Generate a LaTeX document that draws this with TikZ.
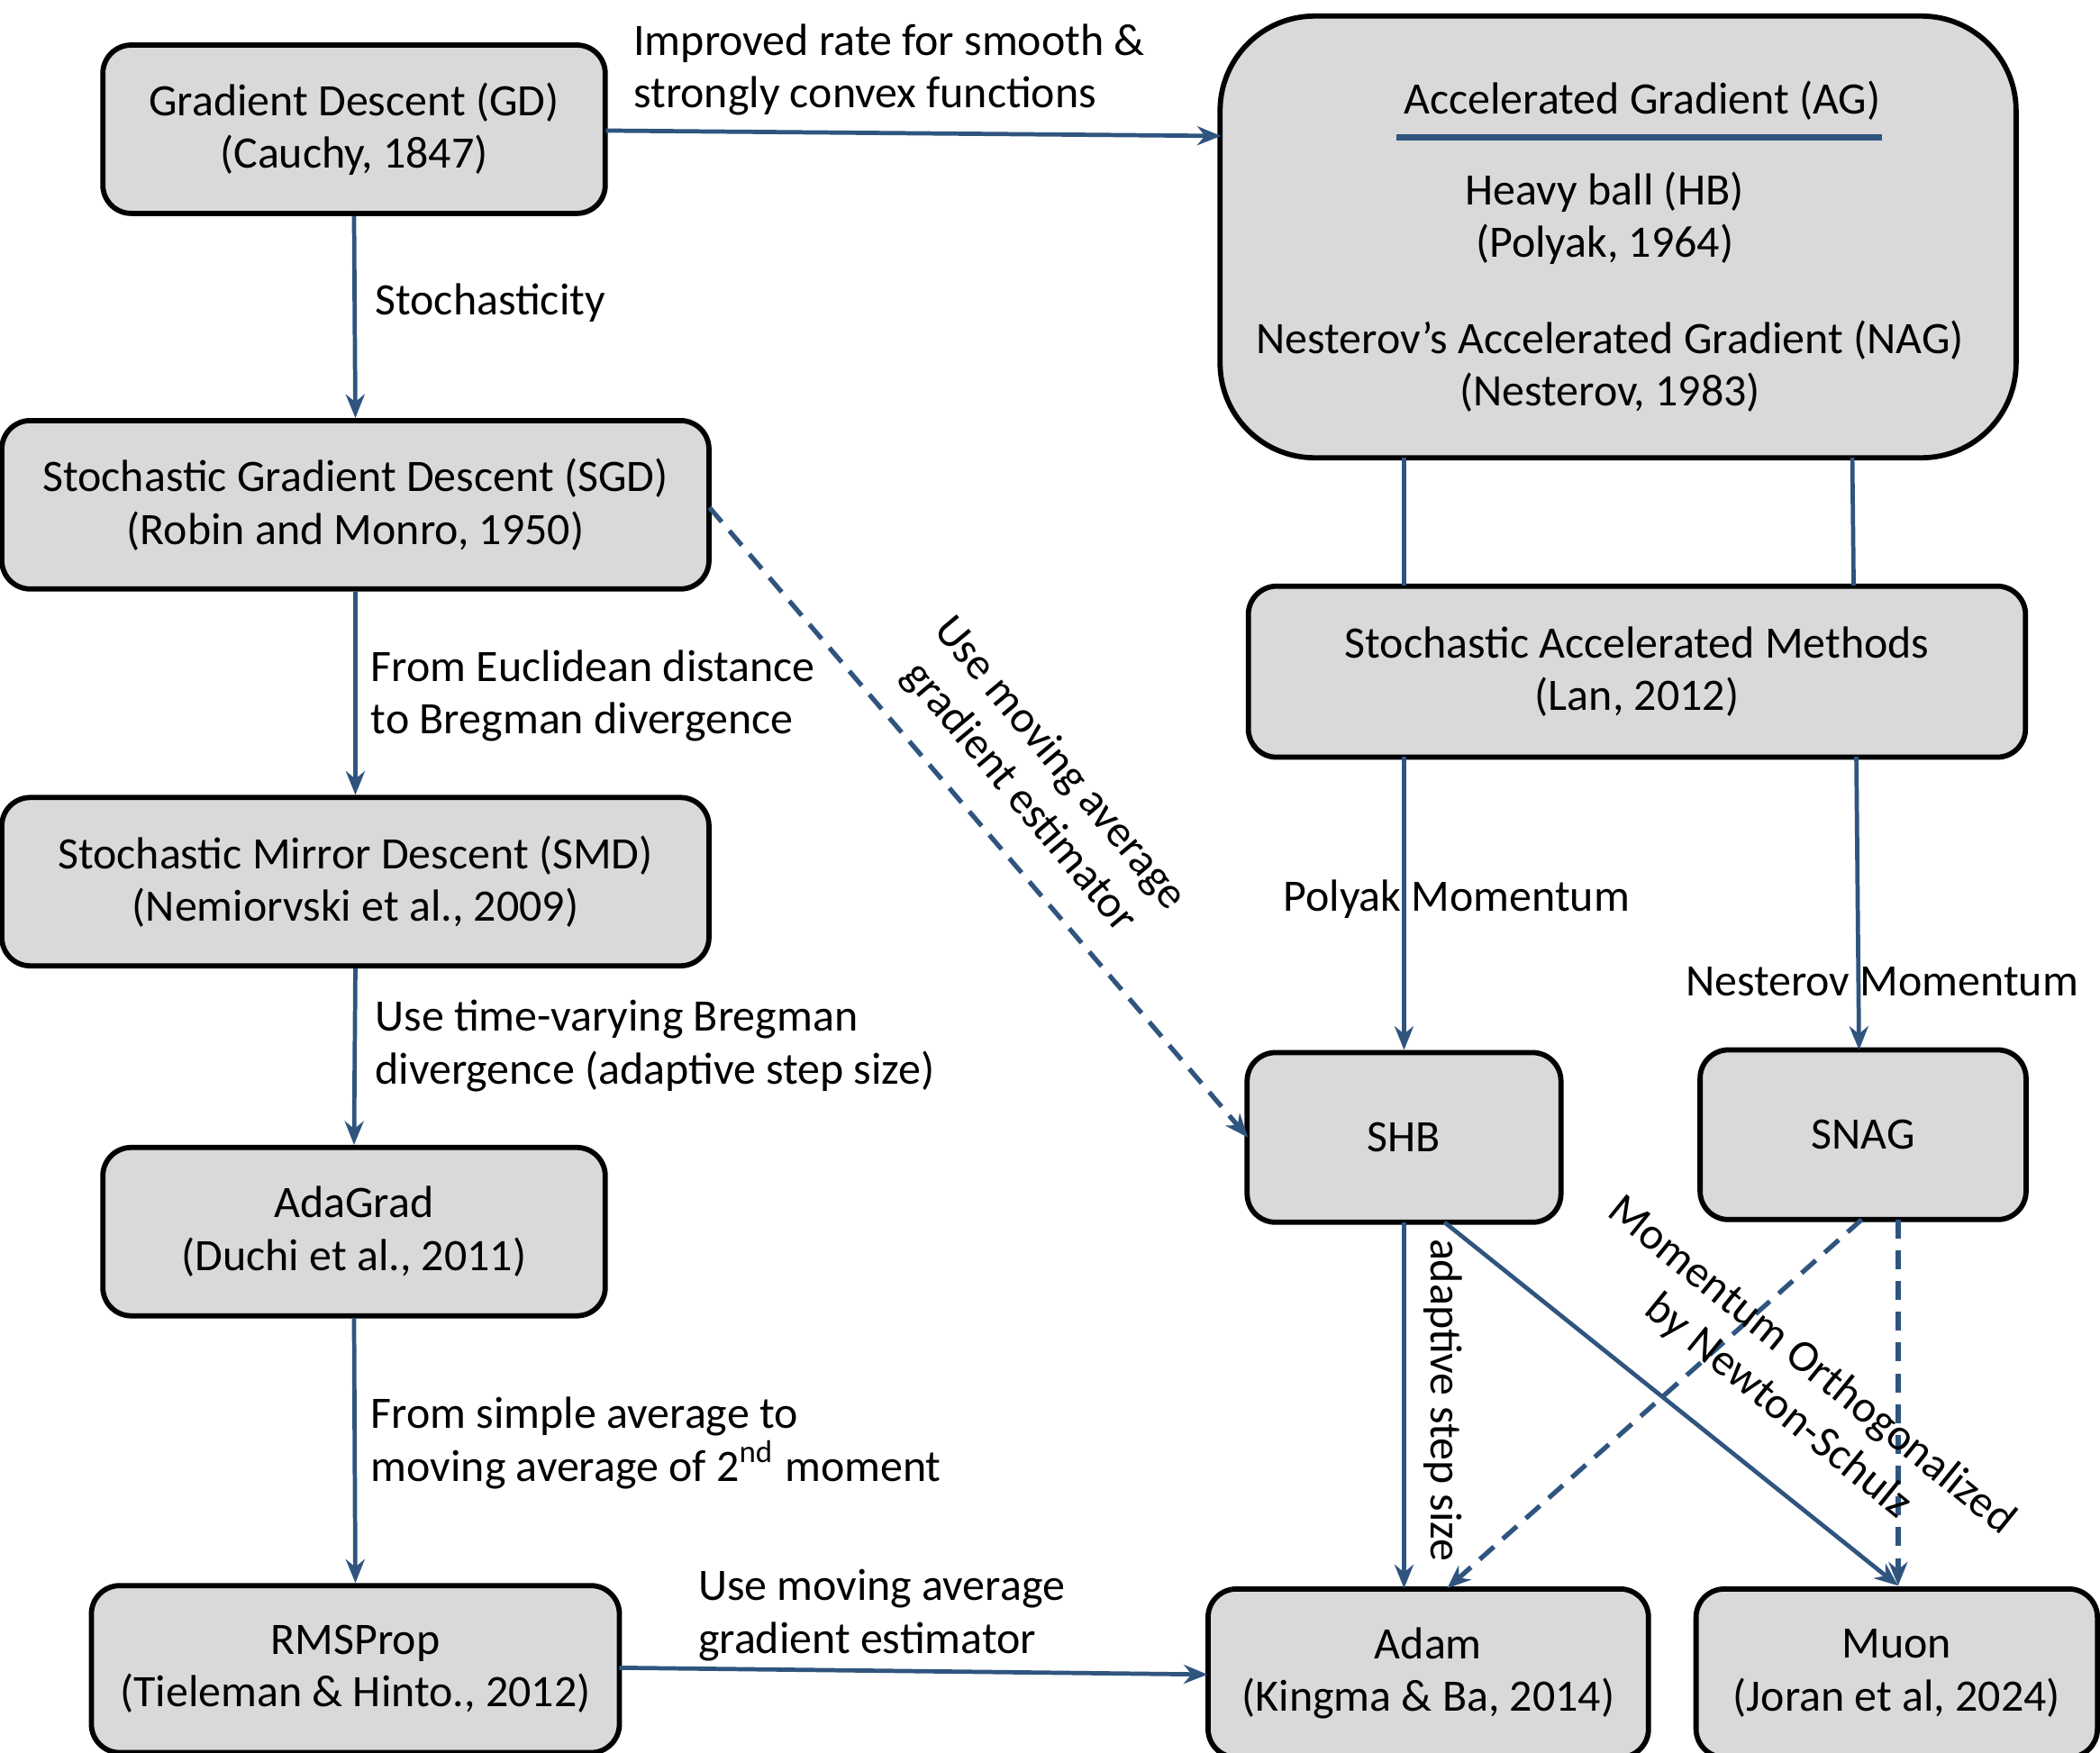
\documentclass[tikz,border=0pt]{standalone}
\usepackage{fontspec}
\setmainfont{Carlito}
\usetikzlibrary{arrows.meta}
\definecolor{ln}{RGB}{47,85,127}
\definecolor{bx}{RGB}{217,217,217}
\begin{document}
\fontsize{9.5pt}{11.1pt}\selectfont
\begin{tikzpicture}[x=0.01cm,y=-0.01cm,
 box/.style={draw=black,fill=bx,line width=1.1pt,rounded corners=6pt,align=center,inner sep=0pt},
 ar/.style={draw=ln,line width=0.9pt,-{Stealth[length=5pt,width=4pt]}},
 dar/.style={ar,line width=1pt,dash pattern=on 4pt off 2.5pt},
 lab/.style={align=left,anchor=west,inner sep=0pt}]
\useasboundingbox (0,0) rectangle (1560,1302);
\node[box,minimum width=3.73cm,minimum height=1.25cm] (gd) at (263,96) {Gradient Descent (GD)\\(Cauchy, 1847)};
\node[box,minimum width=5.25cm,minimum height=1.25cm] (sgd) at (264,375) {Stochastic Gradient Descent (SGD)\\(Robin and Monro, 1950)};
\node[box,minimum width=5.25cm,minimum height=1.25cm] (smd) at (264,655) {Stochastic Mirror Descent (SMD)\\(Nemiorvski et al., 2009)};
\node[box,minimum width=3.73cm,minimum height=1.25cm] (ada) at (263,915) {AdaGrad\\(Duchi et al., 2011)};
\node[box,minimum width=3.92cm,minimum height=1.24cm] (rms) at (264,1240) {RMSProp\\(Tieleman \& Hinto., 2012)};
\node[box,rounded corners=20pt,minimum width=5.91cm,minimum height=3.28cm] (ag) at (1202,176) {};
\node (agt) at (1220,75) {Accelerated Gradient (AG)};
\draw[ln,line width=1.2pt] (1037,102) -- (1398,102);
\node[align=center] (hb) at (1192,162) {Heavy ball (HB)\\(Polyak, 1964)};
\node[align=center] (nag) at (1196,272) {Nesterov’s Accelerated Gradient (NAG)\\(Nesterov, 1983)};
\node[box,minimum width=5.77cm,minimum height=1.27cm] (sam) at (1216,499) {Stochastic Accelerated Methods\\(Lan, 2012)};
\node[box,minimum width=2.33cm,minimum height=1.26cm] (shb) at (1043,845) {SHB};
\node[box,minimum width=2.42cm,minimum height=1.26cm] (snag) at (1384,843) {SNAG};
\node[box,minimum width=3.27cm,minimum height=1.25cm] (adam) at (1061,1243) {Adam\\(Kingma \& Ba, 2014)};
\node[box,minimum width=2.98cm,minimum height=1.25cm] (muon) at (1409,1243) {Muon\\(Joran et al, 2024)};
% left chain
\draw[ar] (gd.south) -- (sgd.north);
\node[lab] (l1) at (278,225) {Stochasticity};
\draw[ar] (sgd.south) -- (smd.north);
\node[lab] (l2) at (275,517) {From Euclidean distance\\to Bregman divergence};
\draw[ar] (smd.south) -- (ada.north);
\node[lab] (l3) at (278,777) {Use time-varying Bregman\\divergence (adaptive step size)};
\draw[ar] (ada.south) -- (rms.north);
\node[lab] (l4) at (275,1072) {From simple average to\\moving average of 2\textsuperscript{nd} moment};
% horizontals
\coordinate (g1) at (450,97); \coordinate (g2) at (907,101);
\draw[ar] (g1) -- (g2);
\node[lab] (l5) at (470,52) {Improved rate for smooth \&\\strongly convex functions};
\coordinate (r1) at (460,1239); \coordinate (r2) at (897,1244);
\draw[ar] (r1) -- (r2);
\node[lab] (l6) at (518,1200) {Use moving average\\gradient estimator};
% dashed SGD->SHB
\coordinate (s1) at (527,377); \coordinate (s2) at (927,845);
\draw[dar] (s1) -- (s2);
\node[align=center,rotate=-50,inner sep=0pt] (l7) at (772,580) {Use moving average\\gradient estimator};
% AG -> SAM
\coordinate (a1) at (1043,340); \coordinate (a2) at (1043,435);
\coordinate (a3) at (1376,340); \coordinate (a4) at (1377,435);
\draw[ln,line width=0.9pt] (a1) -- (a2);
\draw[ln,line width=0.9pt] (a3) -- (a4);
\coordinate (m1) at (1043,562); \coordinate (m2) at (1043,780);
\draw[ar] (m1) -- (m2);
\node (l8) at (1082,668) {Polyak Momentum};
\coordinate (n1) at (1379,562); \coordinate (n2) at (1381,780);
\draw[ar] (n1) -- (n2);
\node (l9) at (1398,729) {Nesterov Momentum};
% bottom right
\coordinate (b1) at (1043,908); \coordinate (b2) at (1043,1180);
\draw[ar] (b1) -- (b2);
\node[rotate=-90,inner sep=0pt] (l10) at (1072,1040) {adaptive step size};
\coordinate (c1) at (1073,908); \coordinate (c2) at (1410,1178);
\draw[ar] (c1) -- (c2);
\coordinate (d1) at (1383,906); \coordinate (d2) at (1075,1180);
\draw[dar] (d1) -- (d2);
\coordinate (e1) at (1410,906); \coordinate (e2) at (1410,1178);
\draw[dar] (e1) -- (e2);
\node[align=center,rotate=-39,inner sep=0pt] (l11) at (1333,1030) {Momentum Orthogonalized\\by Newton-Schulz};
\end{tikzpicture}
\end{document}
